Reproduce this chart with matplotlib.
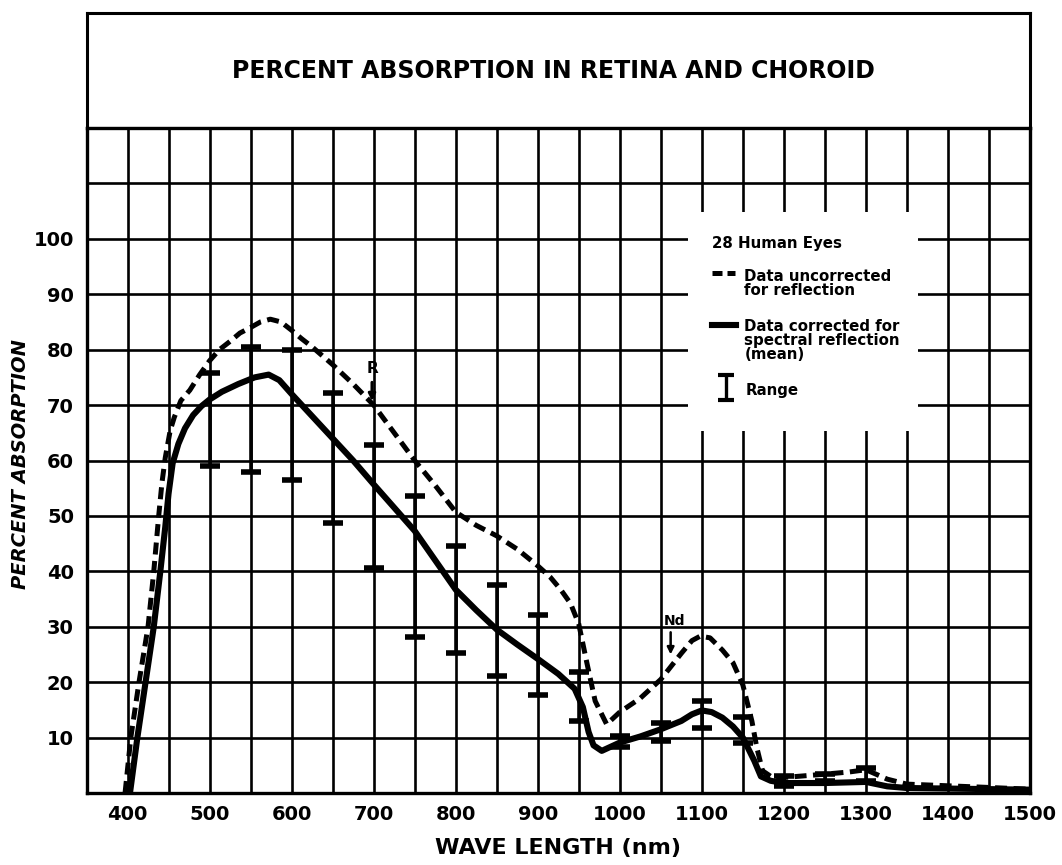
import matplotlib
matplotlib.use("Agg")
import matplotlib.pyplot as plt
from matplotlib.patches import Rectangle

plt.rcParams['font.family'] = ['DejaVu Sans']
plt.rcParams['font.weight'] = 'bold'

# curva sem correção (tracejada)
onda_nc = [397, 404, 414, 425, 432, 438, 442, 446, 452, 457, 465, 476, 488, 500,
           512, 525, 537, 550, 562, 574, 587, 600, 612, 625, 650, 675, 700, 725,
           750, 775, 800, 825, 850, 875, 900, 915, 928, 940, 950, 960, 970, 984,
           1000, 1025, 1050, 1075, 1088, 1098, 1110, 1125, 1138, 1150, 1161, 1167,
           1174, 1188, 1200, 1250, 1280, 1300, 1326, 1350, 1400, 1450, 1497]
abs_nc = [0, 10, 20, 30, 40, 50, 56, 60.5, 65.4, 67.8, 70.8, 72.7, 75.5, 78,
          80, 81.5, 83, 84, 85, 85.5, 85, 83.5, 82, 80.5, 77.3, 73.8, 70, 65,
          60, 55.5, 50.7, 48.3, 46.4, 44, 41, 39, 36.7, 34.2, 30.5, 23.4, 16.6, 12.4,
          14.6, 17.1, 20.5, 25.2, 27.5, 28.3, 28, 25.8, 23.5, 19.5, 13, 8.2,
          4, 2.6, 2.8, 3.4, 3.8, 4.2, 2.5, 1.6, 1.3, 1.0, 0.7]

# curva corrigida (média)
onda_c = [403, 412, 422, 432, 440, 446, 450, 455, 462, 470, 480, 490, 500, 515,
          535, 555, 572, 585, 600, 625, 650, 675, 700, 725, 750, 775, 800, 825,
          850, 875, 900, 925, 945, 955, 962, 968, 978, 1000, 1025, 1050, 1075,
          1088, 1100, 1112, 1125, 1138, 1150, 1164, 1172, 1184, 1200, 1250,
          1300, 1326, 1350, 1400, 1500]
abs_c = [0, 10, 20, 30, 40, 48, 54, 59.5, 63, 65.8, 68.2, 69.8, 71, 72.4,
         73.8, 75, 75.5, 74.5, 72, 68, 64, 60, 55.7, 51.5, 47.3, 42, 36.7, 33,
         29.5, 26.8, 24.2, 21.5, 18.8, 15.5, 11, 8.6, 7.6, 9.1, 10.2, 11.5, 13,
         14.2, 14.9, 14.6, 13.6, 12, 10, 5.8, 3, 2.2, 1.8, 1.8,
         2, 1.2, 0.9, 0.8, 0.6]

# faixa (mínimo e máximo) em cada comprimento de onda
onda_faixa = [500, 550, 600, 650, 700, 750, 800, 850, 900, 950,
              1000, 1050, 1100, 1150, 1200, 1250, 1300]
faixa_min = [59, 58, 56.4, 48.7, 40.6, 28.2, 25.2, 21.1, 17.6, 13,
             8.3, 9.3, 11.8, 9.1, 1.2, 2.2, 2.2]
faixa_max = [75.8, 80.4, 80, 72.2, 62.8, 53.6, 44.6, 37.6, 32.2, 21.8,
             10.3, 12.6, 16.6, 13.7, 3, 3.4, 4.5]

xticks = list(range(400, 1501, 100))
yticks = list(range(10, 101, 10))

W, H = 1062, 865
fig = plt.figure(figsize=(W / 100, H / 100), dpi=100)

# caixa do título
ax_t = fig.add_axes([86.5 / W, 1 - 128 / H, (1030 - 86.5) / W, (128 - 13) / H])
ax_t.set_xticks([])
ax_t.set_yticks([])
for s in ax_t.spines.values():
    s.set_linewidth(2.2)
ax_t.text(0.495, 0.5, "PERCENT ABSORPTION IN RETINA AND CHOROID",
          ha="center", va="center", fontsize=17, fontweight="bold")

ax = fig.add_axes([86.5 / W, 1 - 793 / H, (1030 - 86.5) / W, (793 - 128) / H])
ax.set_xlim(350, 1500)
ax.set_ylim(0, 120)

# grade grossa
for xv in range(400, 1500, 50):
    ax.axvline(xv, color="black", lw=1.9, zorder=1)
for yv in range(10, 120, 10):
    ax.axhline(yv, color="black", lw=1.9, zorder=1)
for s in ax.spines.values():
    s.set_linewidth(2.4)

# área branca da legenda
ax.add_patch(Rectangle((1083, 65.3), 280, 39.6, facecolor="white",
                       edgecolor="none", zorder=2))

ax.plot(onda_nc, abs_nc, color="black", lw=3.6, dashes=(2.4, 1.3),
        solid_capstyle="round", dash_capstyle="butt", zorder=4)
ax.plot(onda_c, abs_c, color="black", lw=4.4, solid_joinstyle="round",
        solid_capstyle="round", zorder=4)

meio = [(a + b) / 2 for a, b in zip(faixa_min, faixa_max)]
erro = [(b - a) / 2 for a, b in zip(faixa_min, faixa_max)]
ax.errorbar(onda_faixa, meio, yerr=erro, fmt="none", ecolor="black",
            elinewidth=2.6, capsize=7, capthick=4, zorder=3)

# anotações dos lasers
ax.annotate("", xy=(698, 70.2), xytext=(698, 74.6),
            arrowprops=dict(arrowstyle="-|>", color="black", lw=2.2,
                            mutation_scale=10), zorder=5)
ax.text(699, 76.6, "R", ha="center", va="center", fontsize=11,
        fontweight="bold", zorder=5)
ax.annotate("", xy=(1062, 24.5), xytext=(1062, 29.5),
            arrowprops=dict(arrowstyle="-|>", color="black", lw=1.8,
                            mutation_scale=10), zorder=5)
ax.text(1067, 31.0, "Nd", ha="center", va="center", fontsize=10,
        fontweight="bold", zorder=5)

# legenda
fs_leg = 10.8
ax.text(1112, 99.1, "28 Human Eyes", ha="left", va="center", fontsize=fs_leg,
        fontweight="bold", zorder=5)
ax.plot([1112, 1141], [93.9, 93.9], color="black", lw=3.6, dashes=(2.0, 1.0), zorder=5)
ax.text(1151, 91.9, "Data uncorrected\nfor reflection", ha="left", va="center",
        fontsize=fs_leg, fontweight="bold", linespacing=0.9, zorder=5)
ax.plot([1113, 1142], [84.5, 84.5], color="black", lw=4.4, zorder=5)
ax.text(1152, 81.7, "Data corrected for\nspectral reflection\n(mean)", ha="left",
        va="center", fontsize=fs_leg, fontweight="bold", linespacing=0.9, zorder=5)
ax.errorbar([1130], [73.2], yerr=[2.3], fmt="none", ecolor="black",
            elinewidth=2.4, capsize=6, capthick=3, zorder=5)
ax.text(1153, 72.7, "Range", ha="left", va="center", fontsize=fs_leg,
        fontweight="bold", zorder=5)

ax.set_xticks(xticks)
ax.set_yticks(yticks)
ax.tick_params(length=0, labelsize=14, pad=9)
for lb in ax.get_xticklabels() + ax.get_yticklabels():
    lb.set_fontweight("bold")

ax.set_xlabel("WAVE LENGTH (nm)", fontsize=16, fontweight="bold", labelpad=10)
ax.set_ylabel("PERCENT ABSORPTION", fontsize=14, fontweight="bold",
              fontstyle="italic", labelpad=12)
ax.yaxis.set_label_coords(-0.06, 0.495)

fig.savefig("out.png", dpi=100)
